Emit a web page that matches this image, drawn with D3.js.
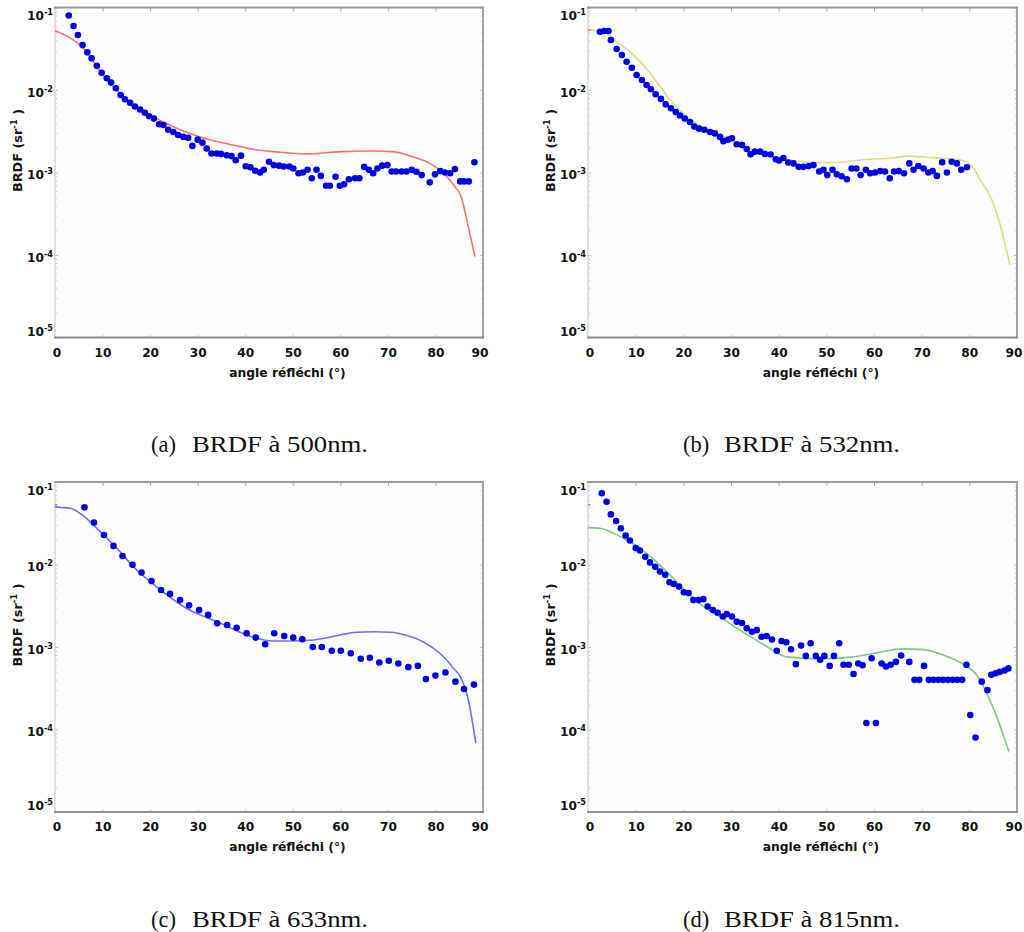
<!DOCTYPE html>
<html><head><meta charset="utf-8">
<script src="https://cdn.jsdelivr.net/npm/d3@7"></script>
<style>body{margin:0;background:#fff}</style>
</head><body>
<svg id="chart" width="1024" height="932"></svg>
<script>
// ---------- data ----------
const xTicks = [0,10,20,30,40,50,60,70,80,90];
const yExps = [-1,-2,-3,-4,-5];
const xTitle = "angle réfléchi (°)";
const yTitle = "BRDF (sr";
const captionLabels = ["(a)","(b)","(c)","(d)"];
const captionTexts = ["BRDF à 500nm.","BRDF à 532nm.","BRDF à 633nm.","BRDF à 815nm."];

// (a) 500 nm
const a_angle = [2.9,3.9,4.8,5.8,6.8,7.7,8.8,9.8,10.9,11.8,12.8,13.8,14.7,15.8,16.8,17.9,18.9,19.8,20.8,21.9,22.8,23.8,24.9,25.9,27.0,28.0,28.9,30.0,31.0,31.9,32.9,34.0,34.9,36.1,37.1,38.0,39.1,40.1,41.1,42.1,43.1,43.9,45.0,46.0,47.1,48.1,49.3,50.1,51.2,52.1,53.1,54.0,55.0,55.9,57.0,57.8,59.0,59.9,60.8,61.8,63.1,64.0,65.0,66.0,66.9,67.8,68.8,69.9,70.8,71.7,72.9,73.9,75.0,76.0,77.1,78.8,79.9,81.0,82.0,83.1,84.1,85.2,86.0,87.0,88.2];
const a_brdf = [0.080,0.0597,0.0464,0.035,0.0286,0.0242,0.0197,0.0162,0.0139,0.0123,0.0105,0.0087,0.0077,0.0070,0.0063,0.0058,0.0053,0.0048,0.0045,0.00384,0.00377,0.0033,0.0031,0.00285,0.0027,0.00264,0.0021,0.0025,0.0023,0.00195,0.0017,0.0017,0.00168,0.00162,0.00158,0.00141,0.0016,0.00119,0.00116,0.00105,0.00100,0.00108,0.00135,0.00123,0.00121,0.00118,0.00118,0.00112,0.00098,0.0010,0.00108,0.00085,0.00108,0.00091,0.00069,0.00069,0.00089,0.00069,0.00072,0.00083,0.00085,0.00085,0.00117,0.00108,0.00098,0.00112,0.00121,0.00123,0.00103,0.00103,0.00103,0.00103,0.00108,0.00102,0.00093,0.00076,0.00095,0.00104,0.0010,0.00098,0.0011,0.00078,0.00078,0.00078,0.00133];
const a_fitAngle = [0,2.5,5.3,7.4,9.5,12.9,16.5,20,23.5,30.5,37.5,43,46,53,60,67,71,75.3,78.8,81.7,83.8,85.5,86.6,88.3];
const a_fit = [0.0524,0.045,0.035,0.0253,0.0167,0.010,0.0066,0.0050,0.0039,0.0027,0.00215,0.00186,0.00179,0.00168,0.00179,0.00182,0.00179,0.00155,0.00129,0.00098,0.00071,0.00049,0.000265,0.000096];

// (b) 532 nm
const b_angle = [2.5,3.4,4.3,4.8,6.0,7.1,8.1,9.2,10.2,11.3,12.3,13.2,14.2,15.3,16.3,17.4,18.4,19.3,20.3,21.4,22.3,23.3,24.4,25.6,26.6,27.7,28.4,29.4,30.2,31.2,32.3,33.3,34.1,35.0,36.1,37.1,38.3,39.4,40.1,41.0,42.0,43.1,44.2,45.2,46.3,47.3,48.5,49.4,50.2,51.3,52.2,53.2,54.3,55.3,56.3,57.2,58.3,59.2,60.2,61.3,62.3,63.3,64.2,65.2,66.3,67.4,68.3,69.3,70.4,71.4,72.3,73.2,74.3,75.3,76.3,77.4,78.3,79.5];
const b_brdf = [0.0509,0.052,0.052,0.0404,0.0314,0.0266,0.022,0.0186,0.0152,0.0132,0.0115,0.0102,0.0089,0.0078,0.0067,0.0060,0.0054,0.0049,0.0045,0.0041,0.0036,0.0034,0.0033,0.0031,0.00298,0.0027,0.0024,0.0025,0.0026,0.0022,0.00216,0.00193,0.00166,0.00179,0.00179,0.00168,0.00165,0.00145,0.0014,0.0015,0.00132,0.00129,0.00117,0.00117,0.0012,0.00123,0.00103,0.00108,0.00093,0.00108,0.00095,0.0009,0.00083,0.00112,0.00112,0.00093,0.00108,0.00098,0.001,0.00104,0.00103,0.00085,0.00103,0.00104,0.00098,0.00129,0.00108,0.0012,0.00112,0.001,0.00104,0.00091,0.00133,0.001,0.00135,0.00129,0.00108,0.00116];
const b_fitAngle = [0,1.8,3.9,6.0,8.8,11.6,14.4,17.2,20.0,22.8,26.3,29.8,33.3,36.8,40.3,45.1,48.6,52.2,55.7,59.2,62.7,67.6,71.1,74.6,78.8,80.9,82.3,84.7,86.4,88.5];
const b_fit = [0.055,0.0524,0.0486,0.0385,0.0292,0.0201,0.0126,0.0076,0.0052,0.0039,0.0031,0.00248,0.002,0.00171,0.00148,0.00135,0.00132,0.00132,0.00139,0.00145,0.00148,0.00158,0.00153,0.00148,0.00139,0.00112,0.00081,0.00047,0.00024,0.000076];

// (c) 633 nm
const c_angle = [6.2,8.2,10.3,12.3,14.2,16.3,18.2,20.3,22.3,24.2,26.3,28.2,30.3,32.2,34.1,36.2,38.2,40.3,42.2,44.2,46.1,48.2,50.1,52.0,54.2,56.1,58.2,60.1,62.2,64.3,66.2,68.2,70.2,72.2,74.3,76.3,78.0,80.0,82.1,84.2,86.0,88.1];
const c_brdf = [0.0493,0.0322,0.0228,0.0168,0.0127,0.0099,0.0080,0.0063,0.0049,0.0044,0.0037,0.0032,0.0028,0.00245,0.00194,0.00185,0.00171,0.00147,0.0013,0.00108,0.00147,0.00136,0.0013,0.00124,0.001,0.001,0.0009,0.0009,0.00084,0.00072,0.00074,0.00065,0.00068,0.00063,0.00057,0.00059,0.00041,0.00045,0.00049,0.00038,0.00031,0.00035];
const c_fitAngle = [0,1,3.2,5.3,7.4,9.5,11.6,13.7,16.5,20,23.5,27,30.5,34,37.5,41,45.9,52.9,56.4,59.9,63.4,67,70.5,74,77.4,80.9,82.4,83.8,85.2,86.9,88.5];
const c_fit = [0.050,0.0493,0.048,0.0417,0.033,0.025,0.019,0.0143,0.0094,0.0062,0.0043,0.0031,0.00245,0.00204,0.00164,0.00135,0.00118,0.0012,0.00127,0.0014,0.00151,0.00153,0.00151,0.00138,0.00116,0.00084,0.00069,0.00055,0.00044,0.00023,0.000068];

// (d) 815 nm
const d_angle = [2.9,3.9,4.8,5.9,6.9,7.9,8.8,10.0,10.9,12.0,13.0,14.1,15.1,16.2,17.1,18.0,19.1,20.1,21.1,22.1,23.2,24.2,25.1,26.2,27.2,28.3,29.1,30.2,31.2,32.3,33.3,34.4,35.4,36.4,37.5,38.6,39.6,40.6,41.6,42.6,43.6,44.7,45.7,46.7,47.8,48.7,49.6,50.7,51.6,52.7,53.6,54.7,55.7,56.7,57.6,58.4,59.5,60.4,61.6,62.5,63.5,64.6,65.7,67.4,68.5,69.5,70.5,71.5,72.5,73.5,74.5,75.5,76.5,77.5,78.5,79.4,80.2,81.3,82.6,83.8,84.6,85.5,86.4,87.4,88.2];
const d_brdf = [0.073,0.0577,0.0405,0.0337,0.0275,0.0224,0.0195,0.0158,0.0148,0.0124,0.0106,0.0094,0.0082,0.0075,0.0061,0.0058,0.0054,0.0046,0.0045,0.0037,0.0037,0.0038,0.0031,0.0028,0.0026,0.00234,0.0025,0.00234,0.00203,0.00195,0.00169,0.00153,0.0016,0.00133,0.00136,0.00123,0.0009,0.00118,0.00114,0.00094,0.00062,0.00104,0.00078,0.00111,0.00078,0.0007,0.00078,0.00059,0.00078,0.00111,0.00061,0.00061,0.00047,0.00063,0.0006,0.00012,0.00073,0.00012,0.00063,0.00058,0.00061,0.00066,0.00079,0.00066,0.0004,0.0004,0.00059,0.0004,0.0004,0.0004,0.0004,0.0004,0.0004,0.0004,0.0004,0.00061,0.00015,0.00008,0.00038,0.0003,0.00046,0.00048,0.0005,0.00052,0.00055];
const d_fitAngle = [0,2.5,5.3,8.1,10.9,13.7,16.5,19.3,22.1,24.9,27.7,31.2,34.7,38.2,41.7,48.7,55.7,60.6,66.1,70.3,74.5,78.7,81.5,84,86,88.3];
const d_fit = [0.028,0.0275,0.024,0.0198,0.0158,0.0116,0.0082,0.0056,0.0039,0.0029,0.00234,0.00169,0.00127,0.00096,0.00076,0.00072,0.00076,0.00085,0.00095,0.00093,0.0008,0.00062,0.00046,0.00025,0.00013,0.000054];

// tiny red stub at the left edge of panels b, c, d
const stubAngle = [0,0.5];
const stubValue = [0.053,0.053];

// ---------- drawing ----------
const svg = d3.select("#chart");
svg.append("rect").attr("width",1024).attr("height",932).attr("fill","#fff");
const defs = svg.append("defs");
defs.append("filter").attr("id","soft").attr("x","-20%").attr("y","-20%").attr("width","140%").attr("height","140%")
  .append("feGaussianBlur").attr("stdDeviation",0.55);

const layout = [
  {L:55,  R:483,  T:7.5, B:337.5, capY:452, capX:151},
  {L:588, R:1017, T:7.5, B:337.5, capY:452, capX:683},
  {L:55,  R:483,  T:482, B:812,   capY:926.5, capX:151},
  {L:588, R:1017, T:482, B:812,   capY:926.5, capX:683}
];
const series = [
  {ang:a_angle, val:a_brdf, fa:a_fitAngle, fv:a_fit, color:"#ff6f6f", stub:false},
  {ang:b_angle, val:b_brdf, fa:b_fitAngle, fv:b_fit, color:"#dcdc86", stub:true},
  {ang:c_angle, val:c_brdf, fa:c_fitAngle, fv:c_fit, color:"#6e6eff", stub:true},
  {ang:d_angle, val:d_brdf, fa:d_fitAngle, fv:d_fit, color:"#7fc97f", stub:true}
];

const font = "'DejaVu Sans', sans-serif";
const yMajor = yExps.map(e => Math.pow(10,e));
const yMinor = [];
for (let e=-5; e<-1; e++) for (let m=2; m<10; m++) yMinor.push(m*Math.pow(10,e));

layout.forEach((P,i) => {
  const S = series[i];
  const g = svg.append("g");
  const x = d3.scaleLinear().domain([0,90]).range([P.L,P.R]);
  const y = d3.scaleLog().domain([1e-5,1e-1]).range([P.B,P.T]);

  g.append("rect").attr("x",P.L).attr("y",P.T).attr("width",P.R-P.L).attr("height",P.B-P.T).attr("fill","#fdfdfd");

  // minor ticks left/right
  const minL = g.append("g").attr("transform",`translate(${P.L},0)`)
    .call(d3.axisLeft(y).tickValues(yMinor).tickSize(-2).tickFormat(()=>""));
  const minR = g.append("g").attr("transform",`translate(${P.R},0)`)
    .call(d3.axisRight(y).tickValues(yMinor).tickSize(-2).tickFormat(()=>""));
  [minL,minR].forEach(a=>{a.select(".domain").remove(); a.selectAll("line").attr("stroke","#c8c8c8");});

  // major y ticks with labels
  const ay = g.append("g").attr("transform",`translate(${P.L},0)`)
    .call(d3.axisLeft(y).tickValues(yMajor).tickSize(-3).tickPadding(2).tickFormat(()=>""));
  ay.select(".domain").remove();
  ay.selectAll("line").attr("stroke","#bbb");
  ay.selectAll(".tick text").each(function(d){
    const e = Math.round(Math.log10(d));
    const t = d3.select(this).attr("font-family",font).attr("font-weight","bold").attr("font-size",12.2).attr("fill","#111");
    const off = e===-1 ? 8 : (e===-5 ? -6.5 : 2);
    t.attr("dy",null).attr("y",off+4.3);
    t.append("tspan").text("10");
    t.append("tspan").attr("dy",-5).attr("font-size",8.2).text(String(e));
  });
  const ayR = g.append("g").attr("transform",`translate(${P.R},0)`)
    .call(d3.axisRight(y).tickValues(yMajor).tickSize(-3).tickFormat(()=>""));
  ayR.select(".domain").remove(); ayR.selectAll("line").attr("stroke","#bbb");

  // x axis labels
  const ax = g.append("g").attr("transform",`translate(0,${P.B})`)
    .call(d3.axisBottom(x).tickValues(xTicks).tickSize(-3).tickPadding(10.5));
  ax.select(".domain").remove();
  ax.selectAll("line").attr("stroke","#d0d0d0");
  ax.selectAll("text").attr("font-family",font).attr("font-weight","bold").attr("font-size",12.2).attr("fill","#111")
    .attr("dx",d => d===90 ? -3.5 : (d===0 ? 1.5 : 0));
  const axT = g.append("g").attr("transform",`translate(0,${P.T})`)
    .call(d3.axisTop(x).tickValues(xTicks.slice(1,-1)).tickSize(-4).tickFormat(()=>""));
  axT.select(".domain").remove(); axT.selectAll("line").attr("stroke","#aaa");

  // borders
  g.append("line").attr("x1",P.L).attr("x2",P.L).attr("y1",P.T).attr("y2",P.B).attr("stroke","#d6d6d6").attr("stroke-width",1.5);
  g.append("line").attr("x1",P.L-1).attr("x2",P.R+1).attr("y1",P.T).attr("y2",P.T).attr("stroke","#9a9a9a").attr("stroke-width",2);
  g.append("line").attr("x1",P.R).attr("x2",P.R).attr("y1",P.T).attr("y2",P.B).attr("stroke","#a4a4a4").attr("stroke-width",2);
  g.append("line").attr("x1",P.L-1).attr("x2",P.R+1).attr("y1",P.B).attr("y2",P.B).attr("stroke","#8f8f8f").attr("stroke-width",2);

  // titles
  g.append("text").attr("x",(P.L+P.R)/2+18.5).attr("y",P.B+39).attr("text-anchor","middle")
    .attr("font-family",font).attr("font-weight","bold").attr("font-size",12.3).attr("fill","#111").text(xTitle);
  const yt = g.append("text").attr("transform",`translate(${P.L-33},${P.T+143}) rotate(-90)`).attr("text-anchor","middle")
    .attr("font-family",font).attr("font-weight","bold").attr("font-size",12.8).attr("fill","#111");
  yt.append("tspan").text(yTitle);
  yt.append("tspan").attr("dy",-5).attr("font-size",8.5).text("-1");
  yt.append("tspan").attr("dy",5).text(" )");

  // fit curve
  const line = d3.line().x(d=>x(d[0])).y(d=>y(d[1])).curve(d3.curveMonotoneX);
  const clip = "clip"+i;
  defs.append("clipPath").attr("id",clip).append("rect").attr("x",P.L).attr("y",P.T).attr("width",P.R-P.L).attr("height",P.B-P.T);
  const plot = g.append("g").attr("clip-path",`url(#${clip})`);
  if (S.stub) {
    plot.append("path").datum(d3.zip(stubAngle,stubValue)).attr("d",line).attr("fill","none").attr("stroke","#ff5555").attr("stroke-width",1.4);
  }
  plot.append("path").datum(d3.zip(S.fa,S.fv)).attr("d",line).attr("fill","none")
    .attr("stroke",S.color).attr("stroke-width",1.6).attr("filter","url(#soft)");
  // points
  plot.append("g").attr("filter","url(#soft)").selectAll("circle").data(d3.zip(S.ang,S.val)).join("circle")
    .attr("cx",d=>x(d[0])).attr("cy",d=>y(d[1])).attr("r",3.3).attr("fill","#0606e6");

  // caption
  svg.append("text").attr("x",P.capX).attr("y",P.capY).attr("font-family","'Liberation Serif', 'DejaVu Serif', serif")
    .attr("font-size",22.5).attr("fill","#111").text(captionLabels[i]);
  svg.append("text").attr("x",P.capX+41).attr("y",P.capY).attr("font-family","'Liberation Serif', 'DejaVu Serif', serif")
    .attr("font-size",22.5).attr("fill","#111").attr("textLength",176).attr("lengthAdjust","spacingAndGlyphs").text(captionTexts[i]);
});
</script>
</body></html>
